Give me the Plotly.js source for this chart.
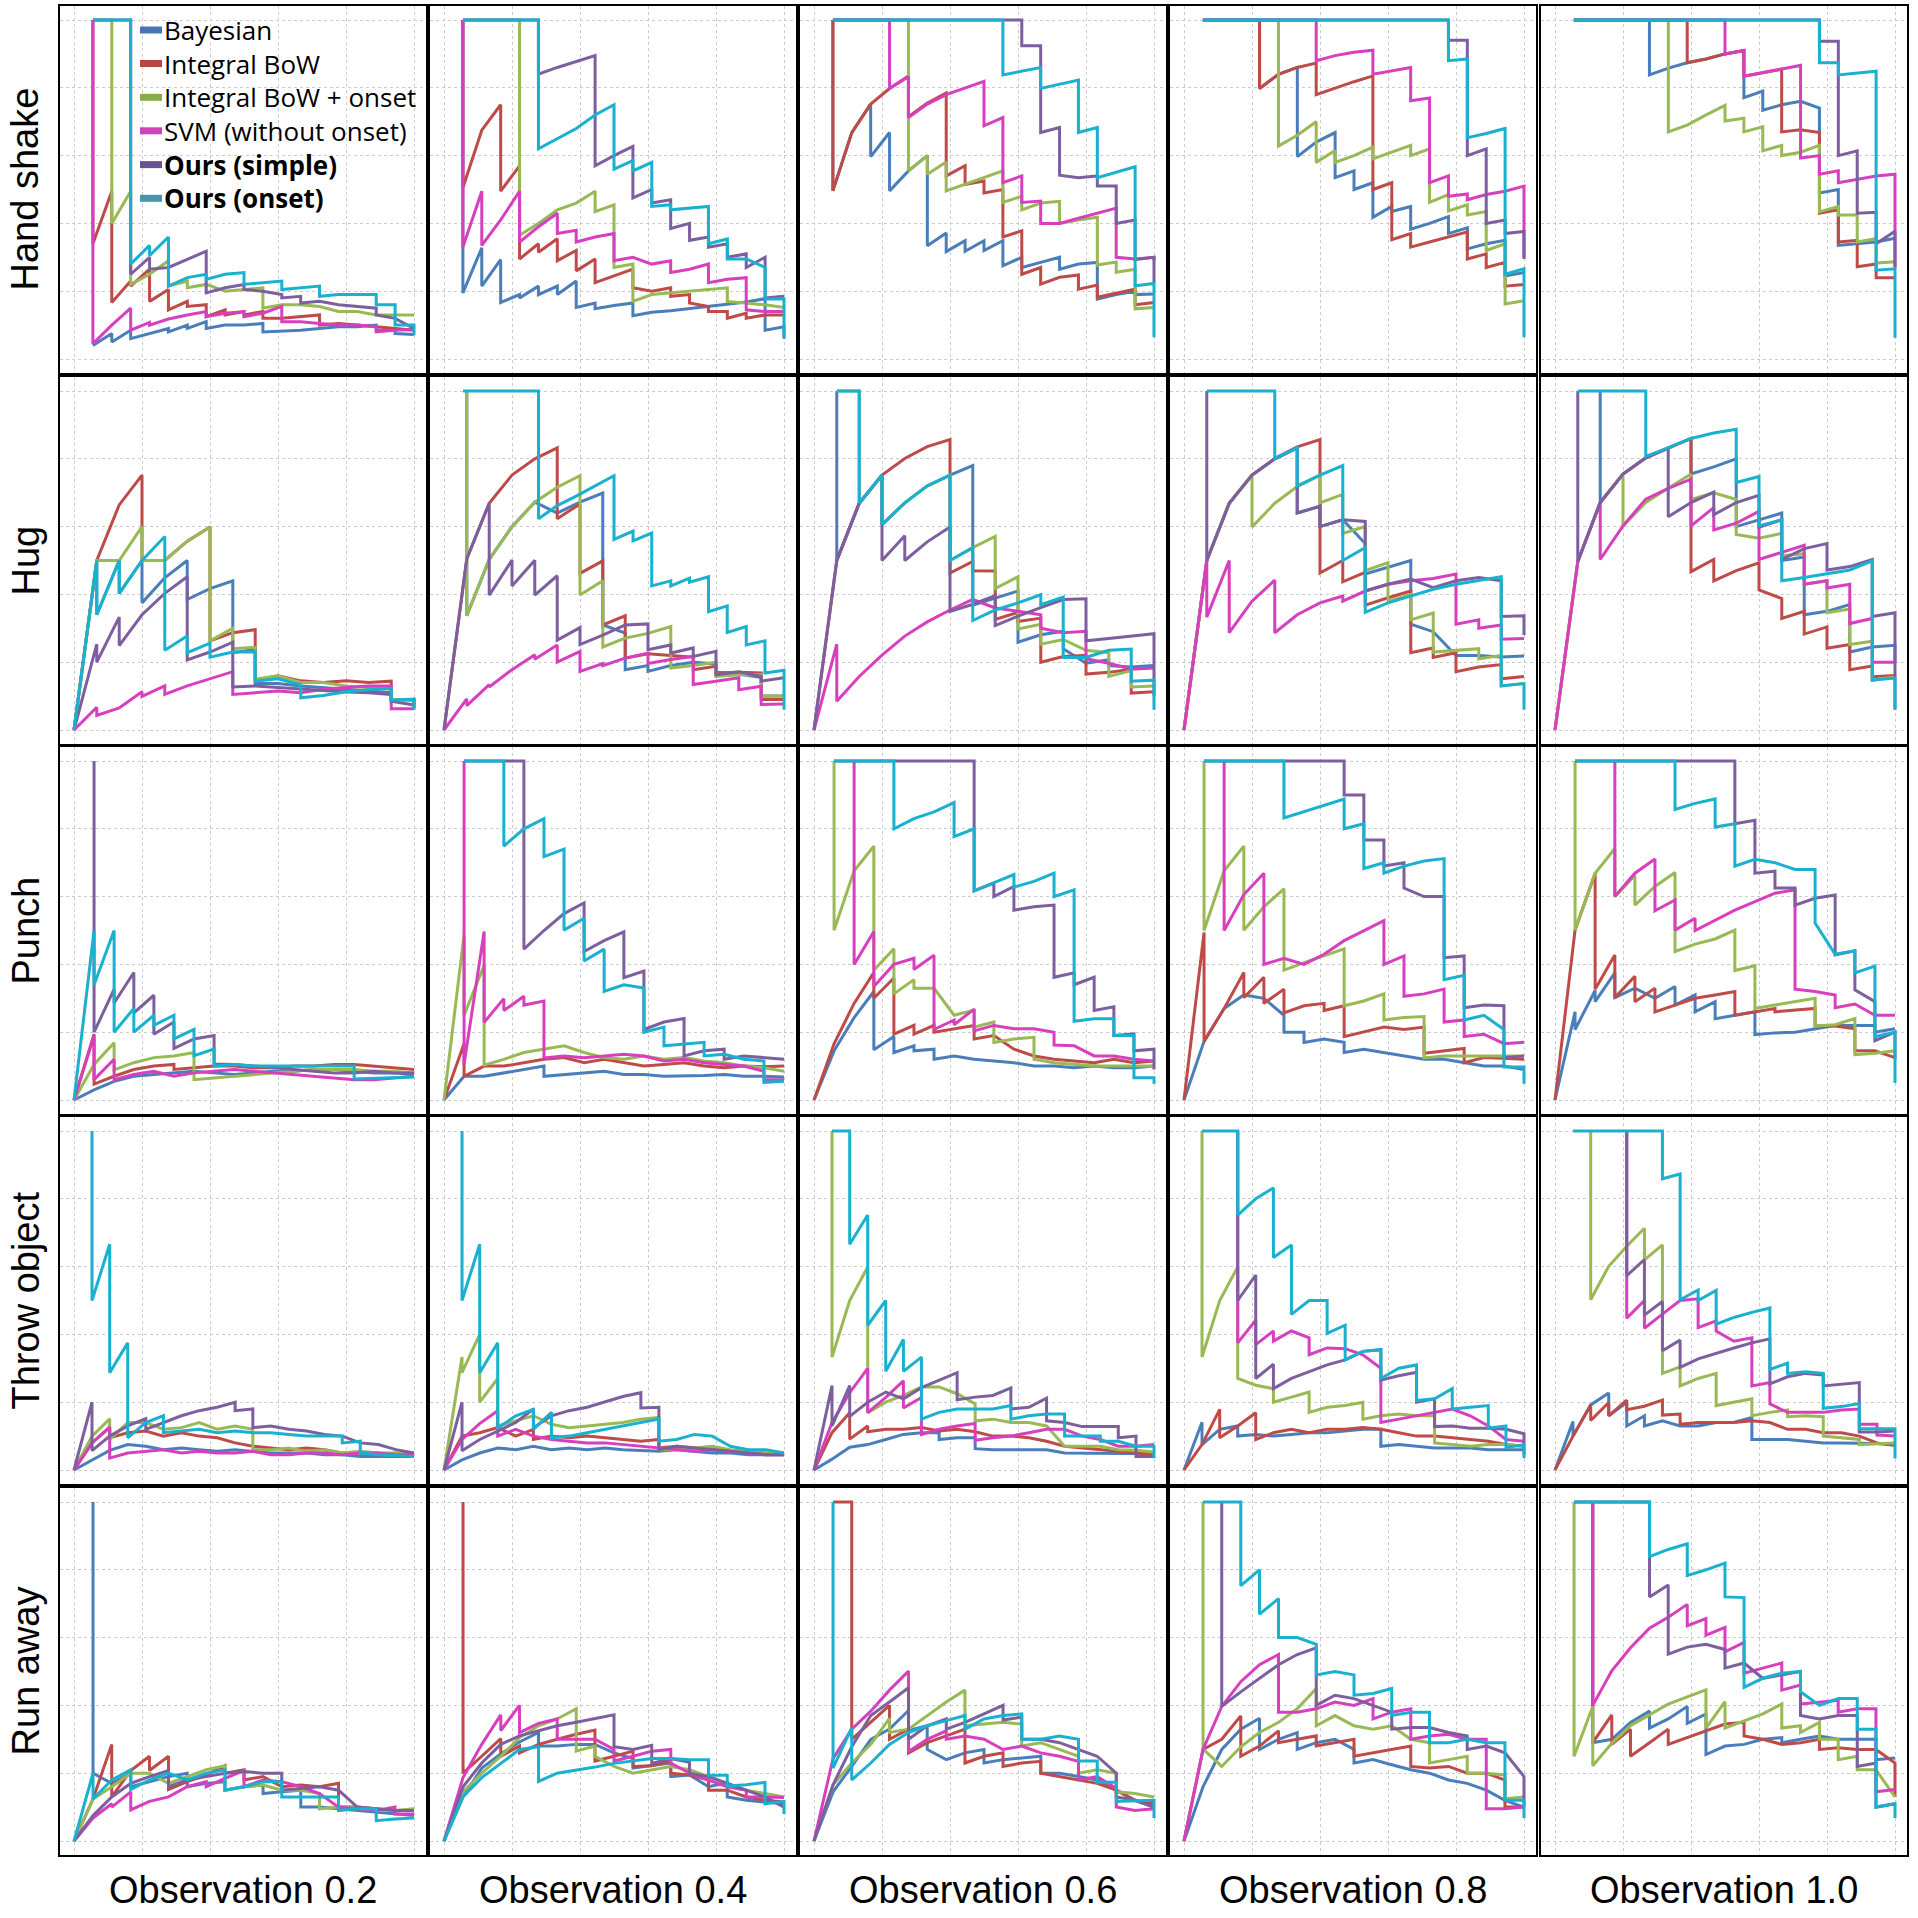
<!DOCTYPE html>
<html><head><meta charset="utf-8">
<script src="https://cdn.plot.ly/plotly-3.0.1.min.js"></script>
<style>html,body{margin:0;padding:0;background:#fff}#chart{width:1918px;height:1918px}</style>
</head><body><div id="chart"></div>
<script>
// ---------- labels ----------
const classNames = ['Hand shake', 'Hug', 'Punch', 'Throw object', 'Run away'];
const observationLabels = ['Observation 0.2', 'Observation 0.4', 'Observation 0.6', 'Observation 0.8', 'Observation 1.0'];
const methodNames = ['Bayesian', 'Integral BoW', 'Integral BoW + onset', 'SVM (without onset)', '<b>Ours (simple)</b>', '<b>Ours (onset)</b>'];
const HAND_SHAKE_POSITIVES = 18; // hand-shake curves are stored as hit counts (recall = hits / 18)

// ---------- Hand shake (x = hit count, y = precision) ----------
const hs02_bay = [1,.04, 2,.075, 2,.05, 3,.085, 3,.06, 4,.075, 5,.09, 5,.08, 6,.10, 6,.09, 7,.11, 7,.09, 8,.10, 9,.10, 10,.105, 10,.08, 11,.082, 12,.085, 13,.09, 14,.095, 15,.095, 16,.10, 16,.085, 17,.085, 17,.075, 18,.072];
const hs02_ibow = [1,1, 1,.34, 2,.495, 2,.167, 3,.23, 3,.215, 4,.265, 4,.17, 5,.205, 5,.145, 6,.17, 6,.155, 7,.16, 7,.125, 8,.145, 8,.13, 9,.14, 9,.13, 10,.14, 10,.12, 11,.12, 12,.125, 13,.13, 13,.10, 14,.105, 15,.10, 16,.095, 17,.09, 18,.085];
const hs02_obow = [1,1, 2,1, 2,.40, 3,.495, 3,.22, 4,.25, 5,.29, 5,.215, 6,.23, 6,.21, 7,.22, 8,.20, 9,.205, 10,.21, 10,.15, 11,.16, 12,.16, 13,.155, 14,.14, 15,.14, 16,.13, 17,.13, 18,.13];
const hs02_svm = [1,1, 1,.045, 2,.10, 3,.15, 3,.085, 4,.108, 4,.10, 5,.118, 6,.13, 7,.14, 7,.125, 8,.135, 9,.14, 9,.125, 10,.135, 11,.155, 11,.11, 12,.11, 13,.105, 14,.10, 15,.10, 16,.095, 16,.08, 17,.085, 18,.087];
const hs02_simple = [1,1, 3,1, 3,.25, 4,.30, 4,.265, 5,.27, 6,.294, 7,.318, 7,.195, 8,.21, 9,.22, 9,.205, 10,.20, 11,.19, 11,.18, 12,.185, 12,.165, 13,.17, 14,.16, 15,.155, 16,.15, 16,.13, 17,.12, 18,.09];
const hs02_ours = [1,1, 3,1, 3,.28, 4,.335, 4,.305, 5,.36, 5,.215, 6,.24, 7,.25, 7,.235, 8,.25, 9,.255, 9,.22, 10,.225, 11,.23, 11,.205, 12,.21, 13,.215, 13,.185, 14,.19, 15,.19, 16,.19, 16,.16, 17,.16, 17,.10, 18,.10, 18,.07];

const hs04_bay = [1,1, 1,.195, 2,.328, 2,.215, 3,.293, 3,.167, 4,.19, 4,.18, 5,.215, 5,.19, 6,.215, 6,.19, 7,.23, 7,.152, 8,.165, 8,.148, 9,.158, 10,.165, 10,.128, 11,.138, 12,.142, 13,.148, 14,.155, 15,.16, 16,.168, 17,.178, 17,.085, 18,.095, 18,.06];
const hs04_ibow = [1,1, 1,.505, 2,.675, 3,.75, 3,.495, 4,.57, 4,.295, 5,.34, 5,.315, 6,.355, 6,.29, 7,.32, 7,.26, 8,.295, 8,.225, 9,.245, 10,.265, 10,.21, 11,.20, 12,.21, 12,.185, 13,.19, 13,.165, 14,.155, 14,.14, 15,.14, 15,.12, 16,.135, 16,.12, 17,.13, 18,.13];
const hs04_obow = [1,1, 4,1, 4,.365, 5,.40, 6,.44, 7,.46, 8,.495, 8,.435, 9,.455, 9,.27, 10,.28, 10,.17, 11,.19, 12,.195, 13,.20, 14,.205, 15,.21, 15,.17, 16,.165, 17,.16, 18,.152];
const hs04_svm = [1,1, 1,.33, 2,.495, 2,.335, 3,.41, 4,.495, 4,.345, 5,.39, 6,.43, 6,.37, 7,.38, 7,.345, 8,.36, 9,.37, 9,.29, 10,.30, 11,.28, 12,.29, 12,.255, 13,.265, 14,.28, 14,.225, 15,.235, 16,.24, 16,.145, 17,.14, 18,.14];
const hs04_simple = [1,1, 5,1, 5,.84, 6,.86, 8,.895, 8,.57, 9,.60, 10,.627, 10,.475, 11,.50, 11,.46, 12,.47, 12,.385, 13,.40, 13,.35, 14,.36, 14,.33, 15,.34, 15,.30, 16,.31, 16,.27, 17,.30, 17,.18, 18,.185];
const hs04_ours = [1,1, 5,1, 5,.62, 6,.65, 7,.68, 8,.72, 9,.75, 9,.56, 10,.585, 10,.555, 11,.58, 11,.45, 12,.455, 12,.44, 13,.445, 14,.45, 14,.34, 15,.354, 15,.295, 16,.295, 17,.27, 17,.177, 18,.178, 18,.065];

const hs06_bay = [1,1, 1,.496, 2,.668, 3,.752, 3,.597, 4,.668, 4,.496, 5,.555, 6,.60, 6,.334, 7,.372, 7,.317, 8,.349, 8,.318, 9,.349, 9,.32, 10,.349, 10,.275, 11,.30, 11,.27, 12,.285, 13,.30, 13,.265, 14,.28, 15,.285, 15,.177, 16,.19, 17,.20, 17,.19, 18,.192];
const hs06_ibow = [1,1, 1,.496, 2,.668, 3,.752, 4,.798, 5,.835, 5,.715, 6,.755, 7,.785, 7,.54, 8,.57, 8,.515, 9,.525, 9,.49, 10,.50, 10,.36, 11,.378, 11,.25, 12,.27, 12,.221, 13,.241, 14,.248, 14,.206, 15,.218, 15,.182, 16,.195, 17,.206, 17,.16, 18,.167];
const hs06_obow = [1,1, 5,1, 5,.555, 6,.60, 6,.545, 7,.581, 7,.496, 8,.515, 9,.535, 10,.555, 10,.462, 11,.48, 11,.44, 12,.46, 13,.465, 13,.40, 14,.41, 15,.418, 15,.277, 16,.286, 16,.256, 17,.265, 17,.148, 18,.152];
const hs06_svm = [1,1, 4,1, 4,.798, 5,.833, 5,.712, 6,.752, 7,.78, 8,.80, 9,.819, 9,.688, 10,.712, 10,.52, 11,.54, 11,.462, 12,.466, 12,.40, 13,.40, 14,.415, 15,.43, 16,.445, 16,.30, 17,.295, 18,.30, 18,.29];
const hs06_simple = [1,1, 11,1, 11,.924, 12,.924, 12,.668, 13,.683, 13,.542, 14,.535, 15,.54, 15,.51, 16,.51, 16,.40, 17,.41, 17,.293, 18,.30, 18,.226];
const hs06_ours = [1,1, 10,1, 10,.838, 11,.85, 12,.86, 12,.798, 13,.81, 14,.823, 14,.668, 15,.683, 15,.535, 16,.55, 17,.567, 17,.216, 18,.223, 18,.064];

const hs08_bay = [1,1, 4,1, 4,.798, 5,.84, 6,.86, 6,.597, 7,.64, 8,.668, 8,.535, 9,.555, 9,.50, 10,.52, 10,.418, 11,.45, 11,.435, 12,.45, 12,.383, 13,.40, 14,.42, 14,.37, 15,.387, 15,.325, 16,.34, 17,.35, 17,.245, 18,.255];
const hs08_ibow = [1,1, 4,1, 4,.798, 5,.84, 6,.86, 7,.873, 7,.78, 8,.80, 9,.818, 10,.835, 10,.50, 11,.52, 11,.352, 12,.37, 12,.33, 13,.345, 14,.36, 15,.375, 15,.295, 16,.31, 16,.27, 17,.285, 17,.215, 18,.22];
const hs08_obow = [1,1, 5,1, 5,.628, 6,.66, 7,.70, 7,.58, 8,.615, 8,.58, 9,.60, 10,.625, 10,.59, 11,.61, 12,.63, 12,.60, 13,.62, 13,.462, 14,.485, 14,.437, 15,.455, 15,.425, 16,.435, 16,.32, 17,.34, 17,.162, 18,.172];
const hs08_svm = [1,1, 7,1, 7,.88, 8,.895, 9,.905, 10,.911, 10,.84, 11,.85, 12,.86, 12,.762, 13,.77, 13,.52, 14,.54, 14,.48, 15,.487, 15,.47, 16,.485, 17,.495, 18,.51, 18,.30];
const hs08_simple = [1,1, 14,1, 14,.94, 15,.94, 15,.60, 16,.62, 16,.40, 17,.41, 17,.37, 18,.376, 18,.295];
const hs08_ours = [1,1, 14,1, 14,.88, 15,.885, 15,.653, 16,.665, 17,.68, 17,.25, 18,.266, 18,.064];

const hs10_bay = [1,1, 5,1, 5,.838, 6,.858, 7,.874, 8,.885, 9,.90, 10,.91, 10,.771, 11,.79, 11,.734, 12,.75, 13,.76, 14,.74, 14,.49, 15,.50, 15,.335, 16,.34, 17,.345, 18,.356];
const hs10_ibow = [1,1, 7,1, 7,.874, 8,.885, 9,.90, 10,.91, 10,.834, 11,.845, 12,.855, 12,.67, 13,.676, 14,.668, 14,.43, 15,.44, 15,.345, 16,.35, 16,.272, 17,.28, 17,.24, 18,.24];
const hs10_obow = [1,1, 6,1, 6,.67, 7,.69, 8,.72, 9,.748, 9,.702, 10,.71, 10,.67, 11,.685, 11,.614, 12,.63, 12,.60, 13,.61, 14,.63, 14,.434, 15,.45, 15,.425, 16,.425, 16,.345, 17,.355, 17,.283, 18,.287];
const hs10_svm = [1,1, 9,1, 9,.90, 10,.91, 10,.834, 11,.845, 12,.855, 13,.866, 13,.593, 14,.60, 14,.545, 15,.555, 15,.52, 16,.53, 17,.54, 18,.545, 18,.27];
const hs10_simple = [1,1, 14,1, 14,.937, 15,.937, 15,.60, 16,.614, 16,.43, 17,.433, 17,.34, 18,.377, 18,.27];
const hs10_ours = [1,1, 14,1, 14,.874, 15,.874, 15,.838, 16,.843, 17,.849, 17,.262, 18,.266, 18,.063];

// ---------- Hug (x = recall, y = precision) ----------
const hug02_bay = [0,0, .067,.5, .067,.34, .133,.5, .133,.403, .2,.5, .2,.375, .267,.449, .333,.5, .333,.385, .4,.417, .467,.44, .467,.228, .533,.238, .533,.137, .6,.137, .667,.13, .733,.125, .8,.12, .867,.115, .933,.11, .933,.09, 1,.088, 1,.065];
const hug02_ibow = [0,0, .067,.5, .133,.664, .2,.752, .2,.5, .267,.5, .333,.557, .4,.599, .4,.263, .467,.287, .533,.296, .533,.147, .6,.16, .667,.145, .733,.14, .8,.145, .867,.14, .933,.144, .933,.09, 1,.09, 1,.065];
const hug02_obow = [0,0, .067,.5, .133,.5, .2,.6, .2,.5, .267,.5, .333,.557, .4,.599, .4,.263, .467,.3, .467,.24, .533,.244, .533,.15, .6,.16, .667,.14, .733,.14, .8,.13, .867,.125, .933,.12, .933,.09, 1,.09, 1,.065];
const hug02_svm = [0,0, .067,.067, .067,.043, .133,.065, .2,.113, .2,.099, .267,.13, .267,.105, .333,.13, .4,.151, .467,.172, .467,.105, .533,.11, .6,.115, .667,.11, .733,.12, .8,.125, .867,.13, .933,.13, .933,.063, 1,.063];
const hug02_simple = [0,0, .067,.253, .067,.2, .133,.333, .133,.249, .2,.34, .267,.403, .333,.452, .333,.207, .4,.23, .467,.259, .467,.127, .533,.13, .6,.125, .667,.12, .733,.115, .8,.112, .867,.11, .933,.105, .933,.085, 1,.074];
const hug02_ours = [0,0, .067,.5, .067,.34, .133,.5, .133,.403, .2,.5, .267,.571, .267,.235, .333,.277, .333,.228, .4,.256, .4,.215, .467,.23, .533,.231, .533,.144, .6,.151, .667,.133, .667,.095, .733,.102, .8,.113, .867,.119, .933,.123, .933,.088, 1,.091, 1,.06];

const hug04_bay = [.067,1, .067,.337, .133,.503, .2,.6, .267,.672, .333,.64, .4,.672, .467,.699, .467,.31, .533,.286, .533,.178, .6,.19, .6,.173, .667,.19, .733,.20, .8,.195, .8,.17, .867,.165, .933,.155, .933,.10, 1,.10];
const hug04_ibow = [0,0, .067,.505, .133,.669, .2,.752, .267,.80, .333,.832, .333,.623, .4,.667, .4,.462, .467,.499, .467,.31, .533,.337, .533,.212, .6,.225, .667,.22, .733,.215, .733,.178, .8,.188, .8,.168, .867,.17, .933,.168, .933,.09, 1,.09];
const hug04_obow = [.067,1, .067,.337, .133,.503, .2,.599, .267,.672, .333,.716, .4,.75, .4,.398, .467,.44, .467,.245, .533,.271, .6,.285, .667,.305, .667,.183, .733,.19, .8,.20, .8,.158, .867,.163, .933,.163, .933,.10, 1,.10];
const hug04_svm = [0,0, .067,.092, .067,.072, .133,.134, .133,.127, .2,.178, .267,.222, .267,.209, .333,.251, .333,.20, .4,.232, .4,.173, .467,.196, .467,.19, .533,.212, .6,.227, .6,.196, .667,.208, .733,.217, .733,.134, .8,.144, .867,.154, .867,.119, .933,.129, .933,.075, 1,.077];
const hug04_simple = [0,0, .067,.505, .133,.669, .133,.398, .2,.501, .2,.425, .267,.501, .267,.398, .333,.455, .333,.265, .4,.302, .4,.252, .467,.28, .533,.31, .6,.313, .6,.237, .667,.251, .667,.227, .733,.242, .733,.217, .8,.232, .8,.163, .867,.172, .933,.158, .933,.144, 1,.154];
const hug04_ours = [.056,1, .278,1, .278,.623, .333,.662, .389,.69, .444,.72, .5,.75, .5,.562, .556,.587, .556,.558, .611,.581, .611,.425, .667,.44, .667,.425, .722,.448, .722,.436, .778,.452, .778,.349, .833,.366, .833,.288, .889,.305, .889,.251, .944,.263, .944,.168, 1,.176, 1,.06];

const hug06_bay = [.067,1, .067,.5, .133,.669, .2,.752, .2,.606, .267,.67, .333,.72, .4,.752, .467,.78, .467,.368, .533,.389, .6,.41, .6,.259, .667,.281, .733,.291, .733,.24, .8,.197, .867,.207, .867,.19, .933,.186, 1,.19];
const hug06_ibow = [0,0, .067,.5, .133,.669, .2,.752, .267,.801, .333,.836, .4,.857, .4,.463, .467,.497, .467,.47, .533,.469, .533,.326, .6,.347, .6,.32, .667,.33, .667,.2, .733,.217, .8,.22, .8,.165, .867,.17, .933,.179, .933,.109, 1,.113];
const hug06_obow = [.067,1, .133,1, .133,.669, .2,.752, .2,.606, .267,.67, .333,.72, .4,.752, .4,.5, .467,.538, .533,.571, .533,.417, .6,.452, .6,.298, .667,.312, .667,.253, .733,.267, .8,.235, .867,.228, .867,.158, .933,.175, .933,.127, 1,.13];
const hug06_svm = [0,0, .067,.253, .067,.085, .133,.158, .2,.221, .267,.277, .333,.319, .4,.354, .467,.385, .533,.36, .6,.35, .667,.34, .667,.30, .733,.287, .8,.291, .8,.21, .867,.197, .933,.179, 1,.183];
const hug06_simple = [0,0, .067,.5, .133,.669, .2,.752, .2,.5, .267,.573, .267,.5, .333,.555, .4,.599, .4,.35, .467,.371, .533,.396, .533,.308, .6,.336, .667,.361, .733,.385, .8,.387, .8,.263, .867,.27, .933,.277, 1,.284, 1,.10];
const hug06_ours = [.067,1, .133,1, .133,.669, .2,.752, .2,.606, .267,.67, .333,.72, .4,.752, .4,.5, .467,.538, .467,.323, .533,.354, .6,.375, .667,.399, .667,.37, .733,.392, .733,.214, .8,.214, .867,.235, .933,.239, .933,.144, 1,.147, 1,.06];

const hug08_bay = [0,0, .067,.5, .133,.669, .2,.752, .267,.80, .333,.832, .333,.64, .4,.66, .4,.60, .467,.62, .533,.55, .533,.46, .6,.48, .667,.50, .667,.312, .733,.29, .8,.22, .867,.22, .933,.215, 1,.218];
const hug08_ibow = [0,0, .067,.5, .133,.669, .2,.752, .267,.801, .333,.835, .4,.857, .4,.463, .467,.50, .467,.437, .533,.465, .533,.368, .6,.39, .667,.41, .667,.228, .733,.242, .733,.214, .8,.228, .8,.172, .867,.186, .933,.193, .933,.151, 1,.158];
const hug08_obow = [0,0, .067,.5, .133,.669, .2,.752, .2,.599, .267,.669, .333,.718, .4,.752, .4,.67, .467,.695, .467,.58, .533,.60, .533,.47, .6,.494, .6,.38, .667,.40, .667,.325, .733,.345, .733,.23, .8,.235, .867,.24, .867,.21, .933,.22, .933,.13, 1,.137];
const hug08_svm = [0,0, .067,.5, .067,.333, .133,.5, .133,.287, .2,.38, .267,.442, .267,.287, .333,.34, .4,.375, .467,.395, .467,.38, .533,.41, .6,.43, .667,.44, .733,.447, .8,.46, .8,.312, .867,.325, .867,.30, .933,.31, .933,.268, 1,.27];
const hug08_simple = [.067,1, .067,.5, .133,.669, .2,.752, .267,.80, .333,.832, .333,.64, .4,.66, .4,.60, .467,.62, .533,.615, .533,.41, .6,.43, .667,.445, .733,.42, .8,.44, .867,.45, .933,.44, .933,.335, 1,.337, 1,.28];
const hug08_ours = [.067,1, .267,1, .267,.801, .333,.832, .333,.72, .4,.752, .467,.78, .467,.50, .533,.538, .533,.347, .6,.375, .667,.395, .733,.415, .8,.43, .867,.44, .933,.452, .933,.13, 1,.137, 1,.06];

const hug10_bay = [.133,1, .133,.671, .2,.755, .267,.803, .333,.832, .4,.86, .4,.755, .467,.776, .533,.80, .533,.60, .6,.62, .667,.64, .667,.50, .733,.51, .733,.34, .8,.35, .867,.37, .867,.23, .933,.245, 1,.25, 1,.20];
const hug10_ibow = [0,0, .067,.497, .133,.671, .2,.755, .267,.803, .333,.832, .4,.86, .4,.467, .467,.503, .467,.44, .533,.47, .6,.493, .6,.413, .667,.388, .667,.329, .733,.35, .733,.283, .8,.304, .8,.241, .867,.252, .867,.178, .933,.189, .933,.157, 1,.161];
const hug10_obow = [0,0, .067,.497, .133,.671, .2,.755, .2,.602, .267,.671, .333,.713, .4,.755, .4,.68, .467,.70, .533,.68, .533,.577, .6,.566, .667,.58, .667,.514, .733,.52, .733,.43, .8,.44, .8,.346, .867,.357, .867,.252, .933,.262, .933,.147, 1,.157];
const hug10_svm = [0,0, .067,.497, .133,.671, .133,.503, .2,.602, .267,.681, .333,.713, .4,.74, .4,.602, .467,.656, .467,.59, .533,.61, .6,.645, .6,.503, .667,.524, .733,.545, .733,.43, .8,.44, .8,.419, .867,.43, .867,.314, .933,.329, .933,.20, 1,.20];
const hug10_simple = [.067,1, .067,.497, .133,.671, .2,.755, .267,.803, .333,.832, .333,.629, .4,.671, .467,.702, .467,.635, .533,.671, .6,.692, .6,.598, .667,.62, .667,.503, .733,.535, .8,.55, .8,.472, .867,.482, .933,.503, .933,.335, 1,.346, 1,.06];
const hug10_ours = [.067,1, .267,1, .267,.807, .333,.832, .4,.86, .467,.876, .533,.887, .533,.73, .6,.748, .6,.602, .667,.62, .667,.44, .733,.45, .8,.461, .867,.472, .933,.499, .933,.147, 1,.153, 1,.063];

// ---------- Punch ----------
const pun02_bay = [0,0, .059,.03, .118,.055, .176,.07, .235,.075, .294,.08, .353,.085, .412,.08, .471,.075, .529,.08, .588,.085, .647,.085, .706,.09, .765,.09, .824,.085, .882,.08, .941,.08, 1,.075];
const pun02_ibow = [0,0, .059,.194, .059,.047, .118,.07, .176,.09, .235,.10, .294,.105, .294,.09, .353,.095, .412,.10, .471,.10, .529,.095, .588,.095, .647,.10, .706,.10, .765,.105, .824,.105, .882,.10, .941,.095, 1,.09];
const pun02_obow = [0,0, .059,.105, .118,.169, .118,.089, .176,.11, .235,.125, .294,.13, .353,.14, .353,.06, .412,.065, .471,.07, .529,.075, .588,.08, .647,.085, .706,.09, .765,.09, .824,.09, .882,.085, .941,.085, 1,.08];
const pun02_svm = [0,0, .059,.19, .059,.06, .118,.12, .118,.06, .176,.075, .235,.085, .294,.07, .353,.08, .412,.085, .471,.09, .529,.085, .588,.08, .647,.075, .706,.07, .765,.065, .824,.06, .882,.06, .941,.065, 1,.07];
const pun02_simple = [.059,1, .059,.2, .118,.327, .118,.286, .176,.376, .176,.257, .235,.309, .235,.194, .294,.23, .294,.152, .353,.18, .412,.19, .412,.106, .471,.105, .529,.10, .588,.095, .647,.09, .706,.085, .765,.08, .824,.08, .882,.085, .941,.08, 1,.08];
const pun02_ours = [0,0, .059,.5, .059,.34, .118,.5, .118,.20, .176,.27, .176,.20, .235,.25, .235,.22, .294,.25, .294,.18, .353,.208, .353,.131, .412,.15, .412,.10, .471,.105, .529,.10, .588,.10, .647,.10, .706,.10, .765,.10, .824,.10, .824,.062, 1,.068];

const pun04_bay = [0,0, .059,.07, .118,.07, .176,.08, .235,.09, .294,.10, .294,.07, .353,.075, .412,.08, .471,.085, .529,.075, .588,.075, .647,.07, .706,.07, .765,.072, .824,.075, .882,.07, .941,.07, 1,.068];
const pun04_ibow = [0,0, .059,.166, .059,.07, .118,.10, .176,.10, .235,.11, .294,.12, .353,.125, .412,.11, .471,.12, .529,.11, .588,.10, .647,.105, .706,.11, .765,.10, .824,.095, .882,.10, .941,.098, 1,.10];
const pun04_obow = [0,0, .059,.487, .059,.25, .118,.397, .118,.103, .176,.12, .235,.14, .294,.15, .353,.16, .412,.14, .471,.125, .529,.12, .588,.13, .647,.12, .706,.125, .765,.115, .824,.11, .882,.10, .941,.095, 1,.085];
const pun04_svm = [.059,1, .059,.105, .118,.497, .118,.229, .176,.299, .176,.264, .235,.306, .235,.28, .294,.292, .294,.124, .353,.13, .412,.125, .471,.13, .529,.135, .588,.13, .647,.115, .706,.12, .765,.11, .824,.105, .882,.10, .941,.085, .941,.06, 1,.06];
const pun04_simple = [.059,1, .235,1, .235,.445, .294,.50, .353,.55, .412,.581, .412,.438, .471,.47, .529,.496, .529,.361, .588,.38, .588,.208, .647,.23, .706,.24, .706,.13, .765,.145, .824,.15, .824,.12, .882,.13, .941,.125, 1,.12];
const pun04_ours = [.059,1, .176,1, .176,.749, .235,.80, .294,.83, .294,.718, .353,.74, .353,.501, .412,.536, .412,.41, .471,.445, .471,.32, .529,.34, .588,.33, .588,.20, .647,.215, .647,.16, .706,.165, .765,.17, .765,.13, .824,.135, .882,.12, .941,.115, .941,.052, 1,.055];

const pun06_bay = [0,0, .059,.145, .118,.243, .176,.32, .176,.148, .235,.187, .235,.14, .294,.16, .294,.145, .353,.15, .353,.12, .412,.13, .471,.12, .529,.115, .588,.11, .647,.10, .706,.10, .765,.095, .824,.10, .882,.095, .941,.095, 1,.10];
const pun06_ibow = [0,0, .059,.166, .118,.285, .176,.376, .176,.30, .235,.36, .235,.194, .294,.22, .294,.194, .353,.22, .353,.20, .412,.21, .471,.22, .471,.18, .529,.19, .588,.15, .647,.13, .706,.12, .765,.115, .824,.11, .882,.12, .941,.11, 1,.115];
const pun06_obow = [.059,1, .059,.501, .118,.676, .176,.749, .176,.383, .235,.446, .235,.313, .294,.355, .294,.33, .353,.33, .412,.25, .471,.265, .471,.215, .529,.23, .529,.17, .588,.18, .647,.185, .647,.12, .706,.11, .765,.105, .824,.10, .882,.10, .941,.10, 1,.10];
const pun06_svm = [.118,1, .118,.40, .176,.497, .176,.335, .235,.40, .294,.418, .294,.385, .353,.427, .353,.208, .412,.236, .412,.222, .471,.268, .471,.204, .529,.22, .588,.21, .647,.21, .706,.20, .706,.162, .765,.16, .824,.13, .882,.13, .941,.12, 1,.115];
const pun06_simple = [.059,1, .471,1, .471,.617, .529,.64, .529,.60, .588,.63, .588,.56, .647,.57, .706,.575, .706,.362, .765,.375, .765,.34, .824,.362, .824,.264, .882,.275, .882,.19, .941,.195, .941,.145, 1,.15, 1,.09];
const pun06_ours = [.059,1, .235,1, .235,.80, .294,.83, .353,.85, .412,.877, .412,.777, .471,.80, .471,.617, .529,.64, .588,.665, .588,.628, .647,.645, .706,.669, .706,.60, .765,.62, .765,.232, .824,.24, .882,.24, .882,.19, .941,.19, .941,.066, 1,.066, 1,.048];

const pun08_bay = [0,0, .059,.173, .118,.27, .176,.31, .235,.30, .294,.25, .294,.20, .353,.20, .353,.17, .412,.18, .471,.17, .471,.14, .529,.15, .588,.14, .647,.13, .706,.12, .765,.12, .824,.11, .882,.10, .941,.10, 1,.09];
const pun08_ibow = [0,0, .059,.494, .059,.173, .118,.27, .176,.376, .176,.302, .235,.362, .235,.285, .294,.327, .294,.257, .353,.278, .412,.285, .412,.264, .471,.278, .471,.187, .529,.20, .588,.215, .647,.208, .706,.215, .706,.138, .765,.145, .824,.152, .824,.11, .882,.125, 1,.12];
const pun08_obow = [.059,1, .059,.50, .118,.676, .176,.749, .176,.501, .235,.57, .294,.623, .294,.383, .353,.405, .412,.425, .471,.446, .471,.278, .529,.292, .588,.313, .588,.236, .647,.243, .706,.246, .706,.124, .765,.13, .824,.13, .882,.13, .941,.13, 1,.13];
const pun08_svm = [.118,1, .118,.50, .176,.606, .235,.669, .235,.40, .294,.418, .353,.40, .412,.43, .471,.47, .529,.50, .588,.529, .588,.40, .647,.425, .647,.306, .706,.313, .765,.327, .765,.23, .824,.236, .824,.187, .882,.194, .941,.166, 1,.17];
const pun08_simple = [.059,1, .471,1, .471,.90, .529,.90, .529,.767, .588,.767, .588,.69, .647,.70, .647,.625, .706,.60, .765,.60, .765,.42, .824,.425, .824,.272, .882,.28, .941,.278, .941,.125, 1,.13];
const pun08_ours = [.059,1, .294,1, .294,.832, .353,.85, .412,.87, .471,.888, .471,.80, .529,.815, .529,.683, .588,.70, .588,.669, .647,.69, .706,.705, .765,.712, .765,.355, .824,.368, .824,.236, .882,.25, .941,.208, .941,.097, 1,.097, 1,.048];

const pun10_bay = [0,0, .059,.26, .059,.208, .118,.323, .118,.29, .176,.375, .176,.302, .235,.33, .294,.30, .353,.335, .353,.28, .412,.31, .412,.26, .471,.29, .471,.24, .529,.25, .588,.26, .588,.193, .647,.198, .706,.20, .765,.21, .824,.22, .882,.22, .941,.22, .941,.20, 1,.21];
const pun10_ibow = [0,0, .059,.501, .118,.669, .118,.327, .176,.428, .176,.302, .235,.365, .235,.29, .294,.33, .294,.26, .353,.28, .412,.30, .471,.31, .529,.32, .529,.25, .588,.26, .647,.27, .647,.26, .706,.265, .765,.27, .765,.218, .824,.218, .882,.21, .882,.145, .941,.145, 1,.125];
const pun10_obow = [.059,1, .059,.501, .118,.669, .176,.742, .176,.60, .235,.662, .235,.575, .294,.63, .353,.671, .353,.438, .412,.46, .471,.475, .529,.501, .529,.382, .588,.396, .588,.27, .647,.28, .706,.29, .765,.30, .765,.218, .824,.222, .882,.24, .882,.134, .941,.138, 1,.145];
const pun10_svm = [.176,1, .176,.60, .235,.669, .294,.711, .294,.558, .353,.59, .353,.501, .412,.536, .412,.50, .471,.53, .529,.56, .588,.585, .647,.61, .706,.62, .706,.327, .765,.32, .824,.31, .824,.272, .882,.283, .941,.25, 1,.25];
const pun10_simple = [.059,1, .529,1, .529,.815, .588,.825, .588,.669, .647,.675, .647,.625, .706,.625, .706,.575, .765,.595, .824,.605, .824,.428, .882,.44, .882,.325, .941,.29, .941,.175, 1,.20, 1,.12];
const pun10_ours = [.059,1, .353,1, .353,.857, .412,.875, .471,.888, .471,.805, .529,.815, .529,.69, .588,.71, .647,.70, .706,.68, .765,.68, .765,.522, .824,.43, .882,.44, .882,.375, .941,.395, .941,.187, 1,.20, 1,.05];

// ---------- Throw object ----------
const thr02_bay = [0,0, .053,.03, .105,.058, .158,.075, .211,.07, .263,.06, .316,.065, .368,.06, .421,.055, .474,.06, .526,.055, .579,.05, .632,.05, .684,.05, .737,.045, .789,.045, .842,.04, .895,.04, .947,.04, 1,.04];
const thr02_ibow = [0,0, .053,.08, .105,.125, .105,.095, .158,.11, .211,.115, .263,.10, .316,.11, .368,.10, .421,.095, .474,.08, .526,.07, .579,.065, .632,.06, .684,.065, .737,.06, .789,.05, .842,.05, .895,.045, .947,.05, 1,.045];
const thr02_obow = [0,0, .053,.10, .105,.151, .105,.09, .158,.14, .211,.14, .263,.12, .316,.125, .368,.14, .421,.12, .474,.13, .526,.12, .526,.06, .579,.06, .632,.065, .684,.055, .737,.06, .789,.05, .842,.055, .895,.05, .947,.05, 1,.05];
const thr02_svm = [0,0, .053,.08, .105,.127, .105,.035, .158,.05, .211,.055, .263,.06, .316,.05, .368,.055, .421,.05, .474,.05, .526,.055, .579,.045, .632,.045, .684,.05, .737,.05, .789,.045, .842,.05, .895,.05, .947,.045, 1,.045];
const thr02_simple = [0,0, .053,.20, .053,.057, .105,.10, .158,.13, .211,.151, .211,.12, .263,.14, .316,.16, .368,.175, .421,.185, .474,.20, .474,.175, .526,.18, .526,.125, .579,.13, .632,.12, .684,.115, .737,.105, .789,.10, .842,.08, .895,.075, .947,.06, 1,.05];
const thr02_ours = [.053,1, .053,.50, .105,.666, .105,.287, .158,.375, .158,.095, .211,.14, .263,.16, .263,.11, .316,.115, .368,.12, .421,.11, .474,.115, .526,.11, .579,.11, .632,.105, .684,.10, .737,.10, .789,.10, .789,.08, .842,.085, .842,.05, .895,.045, 1,.04];

const thr04_bay = [0,0, .053,.03, .105,.05, .158,.065, .211,.06, .263,.07, .316,.06, .368,.065, .421,.06, .474,.065, .526,.06, .579,.058, .632,.055, .684,.06, .737,.055, .789,.05, .842,.05, .895,.045, .947,.045, 1,.045];
const thr04_ibow = [0,0, .053,.10, .105,.11, .158,.125, .211,.10, .263,.12, .263,.09, .316,.10, .368,.095, .421,.10, .474,.095, .526,.09, .579,.085, .632,.09, .632,.065, .684,.07, .737,.065, .789,.06, .842,.055, .895,.055, .947,.05, 1,.05];
const thr04_obow = [0,0, .053,.333, .053,.287, .105,.40, .105,.20, .158,.27, .158,.13, .211,.145, .263,.16, .316,.135, .368,.125, .421,.13, .474,.135, .526,.14, .579,.15, .632,.155, .632,.06, .684,.06, .737,.065, .789,.07, .842,.06, .895,.055, .947,.05, 1,.05];
const thr04_svm = [0,0, .053,.09, .105,.137, .158,.175, .158,.10, .211,.12, .263,.10, .316,.09, .368,.085, .421,.08, .474,.08, .526,.075, .579,.07, .632,.065, .684,.06, .737,.055, .789,.06, .842,.055, .895,.05, .947,.045, 1,.045];
const thr04_simple = [0,0, .053,.20, .053,.057, .105,.09, .158,.115, .211,.14, .263,.18, .263,.125, .316,.16, .368,.175, .421,.185, .474,.20, .526,.217, .579,.228, .579,.183, .632,.185, .632,.06, .684,.07, .737,.065, .789,.06, .842,.055, .895,.05, .947,.045, 1,.045];
const thr04_ours = [.053,1, .053,.50, .105,.666, .105,.287, .158,.375, .158,.123, .211,.16, .263,.179, .263,.12, .316,.17, .316,.095, .368,.10, .421,.11, .474,.12, .526,.13, .579,.14, .632,.15, .632,.085, .684,.09, .737,.105, .789,.10, .842,.07, .895,.06, .947,.06, 1,.05];

const thr06_bay = [0,0, .053,.032, .105,.067, .158,.075, .211,.09, .263,.105, .316,.11, .368,.11, .368,.09, .421,.095, .474,.095, .474,.063, .526,.06, .579,.06, .632,.06, .684,.06, .737,.05, .789,.05, .842,.05, .895,.05, .947,.048, 1,.048];
const thr06_ibow = [0,0, .053,.11, .105,.169, .105,.091, .158,.13, .158,.113, .211,.12, .263,.12, .316,.125, .368,.115, .421,.12, .474,.113, .526,.10, .579,.10, .632,.095, .684,.085, .737,.07, .789,.065, .842,.06, .895,.055, .947,.05, 1,.045];
const thr06_obow = [.053,1, .053,.333, .105,.50, .158,.599, .158,.169, .211,.20, .263,.22, .316,.245, .368,.245, .421,.225, .474,.195, .474,.145, .526,.15, .579,.14, .632,.14, .684,.13, .737,.07, .789,.07, .842,.07, .895,.06, .947,.058, 1,.053];
const thr06_svm = [0,0, .053,.14, .105,.228, .158,.30, .158,.169, .211,.214, .263,.263, .263,.183, .316,.214, .316,.105, .368,.12, .421,.13, .474,.137, .474,.088, .526,.095, .579,.10, .632,.11, .684,.12, .737,.12, .789,.10, .842,.09, .895,.07, .947,.07, 1,.075];
const thr06_simple = [0,0, .053,.249, .053,.13, .105,.249, .105,.158, .158,.20, .211,.23, .263,.21, .316,.243, .368,.265, .421,.287, .421,.207, .474,.215, .526,.22, .579,.242, .579,.18, .632,.185, .684,.212, .684,.145, .737,.14, .789,.128, .842,.128, .895,.128, .895,.095, .947,.10, .947,.04, 1,.04];
const thr06_ours = [.053,1, .105,1, .105,.666, .158,.752, .158,.427, .211,.50, .211,.291, .263,.385, .263,.291, .316,.333, .316,.15, .368,.17, .421,.18, .474,.18, .526,.18, .579,.19, .579,.15, .632,.16, .684,.165, .737,.165, .737,.10, .789,.10, .842,.10, .842,.085, .895,.085, .947,.07, 1,.07, 1,.035];

const thr08_bay = [0,0, .053,.141, .053,.075, .105,.12, .158,.13, .158,.10, .211,.105, .263,.10, .316,.105, .368,.11, .421,.11, .474,.115, .526,.12, .579,.12, .579,.07, .632,.075, .684,.07, .737,.065, .789,.065, .842,.065, .895,.06, .947,.06, 1,.06];
const thr08_ibow = [0,0, .053,.075, .105,.179, .105,.095, .158,.13, .211,.169, .211,.09, .263,.11, .316,.12, .368,.11, .421,.12, .474,.12, .526,.125, .579,.12, .632,.11, .684,.10, .737,.10, .789,.095, .842,.09, .895,.085, .947,.075, 1,.07];
const thr08_obow = [.053,1, .053,.333, .105,.50, .158,.599, .158,.27, .211,.25, .263,.24, .263,.20, .316,.215, .368,.23, .368,.17, .421,.185, .474,.19, .526,.20, .526,.15, .579,.16, .632,.165, .684,.16, .737,.16, .737,.08, .789,.075, .842,.07, .895,.075, .947,.075, 1,.07];
const thr08_svm = [.158,1, .158,.375, .211,.442, .211,.37, .263,.41, .263,.38, .316,.41, .368,.39, .368,.34, .421,.36, .474,.358, .526,.34, .579,.30, .579,.14, .632,.15, .684,.16, .737,.17, .789,.18, .842,.16, .895,.13, .947,.09, 1,.085];
const thr08_simple = [.158,1, .158,.50, .211,.575, .211,.27, .263,.312, .263,.24, .316,.27, .368,.29, .421,.31, .474,.325, .526,.35, .579,.355, .579,.265, .632,.278, .684,.288, .684,.20, .737,.21, .737,.128, .789,.13, .842,.123, .895,.123, .947,.12, 1,.107, 1,.045];
const thr08_ours = [.053,1, .158,1, .158,.752, .211,.80, .263,.832, .263,.627, .316,.664, .316,.459, .368,.50, .421,.50, .421,.403, .474,.427, .474,.325, .526,.35, .579,.355, .579,.27, .632,.30, .684,.31, .684,.205, .737,.21, .789,.24, .789,.18, .842,.185, .895,.19, .895,.123, .947,.13, .947,.067, 1,.074, 1,.035];

const thr10_bay = [0,0, .053,.143, .053,.10, .105,.192, .158,.227, .158,.16, .211,.20, .211,.13, .263,.16, .263,.13, .316,.145, .368,.13, .421,.13, .474,.14, .526,.14, .579,.155, .579,.09, .632,.09, .684,.09, .737,.085, .789,.08, .842,.08, .895,.08, .947,.078, 1,.073];
const thr10_ibow = [0,0, .053,.10, .105,.192, .105,.146, .158,.199, .158,.16, .211,.206, .211,.178, .263,.188, .316,.206, .316,.162, .368,.165, .368,.135, .421,.14, .474,.14, .526,.14, .579,.145, .632,.14, .684,.12, .737,.12, .789,.11, .842,.11, .895,.10, .947,.08, 1,.073];
const thr10_obow = [.105,1, .105,.502, .158,.601, .211,.66, .263,.713, .263,.62, .316,.664, .316,.285, .368,.304, .368,.248, .421,.27, .474,.285, .474,.19, .526,.20, .579,.21, .579,.16, .632,.17, .684,.177, .684,.157, .737,.16, .789,.157, .789,.10, .842,.095, .895,.09, .895,.075, 1,.08];
const thr10_svm = [.211,1, .211,.448, .263,.50, .263,.418, .316,.46, .368,.50, .421,.505, .421,.42, .474,.44, .474,.41, .526,.38, .579,.39, .579,.248, .632,.258, .632,.195, .684,.17, .737,.17, .789,.17, .842,.177, .895,.18, .895,.135, .947,.135, .947,.103, 1,.10];
const thr10_simple = [.211,1, .211,.573, .263,.621, .263,.457, .316,.497, .316,.352, .368,.383, .368,.303, .421,.328, .474,.345, .526,.36, .579,.375, .632,.387, .632,.254, .684,.275, .737,.285, .789,.28, .789,.248, .842,.252, .895,.258, .895,.112, .947,.112, 1,.115];
const thr10_ours = [.053,1, .316,1, .316,.859, .368,.873, .368,.502, .421,.531, .421,.50, .474,.53, .474,.43, .526,.45, .579,.465, .632,.478, .632,.297, .684,.315, .684,.285, .737,.29, .789,.285, .789,.182, .842,.187, .895,.196, .895,.122, .947,.122, 1,.122, 1,.034];

// ---------- Run away ----------
const run02_bay = [.056,1, .056,.20, .111,.17, .167,.20, .167,.16, .222,.175, .278,.19, .333,.20, .333,.16, .389,.17, .444,.175, .444,.15, .5,.16, .556,.165, .556,.14, .611,.145, .667,.15, .667,.10, .722,.10, .778,.095, .833,.09, .889,.085, .944,.08, 1,.075];
const run02_ibow = [0,0, .056,.124, .111,.285, .111,.13, .167,.208, .222,.25, .222,.208, .278,.25, .278,.152, .333,.175, .389,.195, .444,.222, .444,.20, .5,.21, .5,.18, .556,.19, .611,.16, .667,.165, .722,.16, .778,.17, .778,.10, .833,.10, .889,.095, .944,.09, 1,.09];
const run02_obow = [0,0, .056,.124, .111,.16, .167,.20, .222,.20, .278,.17, .333,.19, .389,.21, .444,.222, .444,.15, .5,.16, .556,.165, .611,.15, .667,.15, .722,.14, .722,.095, .778,.10, .833,.10, .889,.09, .944,.09, 1,.095];
const run02_svm = [0,0, .056,.068, .111,.11, .111,.10, .167,.145, .167,.092, .222,.117, .278,.13, .333,.16, .389,.175, .389,.16, .444,.185, .5,.208, .5,.16, .556,.18, .611,.175, .667,.16, .722,.14, .778,.10, .833,.095, .889,.09, .944,.10, .944,.08, 1,.08];
const run02_simple = [0,0, .056,.075, .111,.13, .167,.17, .222,.19, .278,.208, .278,.16, .333,.18, .389,.19, .444,.20, .5,.205, .556,.20, .611,.20, .611,.15, .667,.155, .722,.16, .778,.15, .833,.10, .889,.095, .944,.09, 1,.09];
const run02_ours = [0,0, .056,.20, .056,.124, .111,.18, .167,.21, .167,.152, .222,.18, .278,.20, .333,.18, .389,.20, .444,.21, .444,.15, .5,.16, .556,.175, .611,.175, .611,.13, .667,.13, .722,.13, .778,.13, .778,.09, .833,.095, .889,.095, .889,.06, .944,.065, 1,.068];

const run04_bay = [0,0, .056,.13, .111,.215, .167,.257, .222,.292, .278,.32, .278,.28, .333,.28, .389,.285, .444,.285, .5,.26, .556,.243, .556,.215, .611,.222, .667,.23, .667,.19, .722,.195, .778,.16, .833,.172, .833,.13, .889,.12, .944,.115, 1,.11];
const run04_ibow = [.056,1, .056,.20, .111,.25, .167,.302, .167,.25, .222,.28, .222,.26, .278,.285, .333,.30, .389,.315, .444,.327, .444,.236, .5,.25, .556,.265, .556,.22, .611,.222, .667,.236, .667,.20, .722,.195, .778,.18, .778,.15, .833,.15, .889,.13, .944,.12, 1,.115];
const run04_obow = [0,0, .056,.145, .111,.20, .167,.25, .222,.305, .278,.34, .333,.36, .389,.39, .389,.265, .444,.28, .444,.25, .5,.22, .556,.20, .611,.21, .667,.22, .722,.21, .778,.19, .833,.17, .889,.15, .944,.14, 1,.13];
const run04_svm = [0,0, .056,.187, .111,.285, .167,.372, .167,.326, .222,.40, .222,.32, .278,.347, .333,.36, .333,.30, .389,.30, .444,.30, .5,.27, .5,.236, .556,.25, .611,.265, .667,.27, .667,.23, .722,.20, .778,.18, .833,.16, .889,.15, .889,.13, .944,.13, 1,.128];
const run04_simple = [0,0, .056,.16, .111,.23, .167,.285, .222,.31, .278,.325, .333,.34, .389,.35, .444,.36, .5,.372, .5,.278, .556,.27, .611,.282, .611,.229, .667,.243, .722,.232, .722,.20, .778,.19, .833,.17, .889,.15, .944,.13, 1,.10];
const run04_ours = [0,0, .056,.131, .111,.187, .167,.229, .222,.27, .278,.278, .278,.176, .333,.20, .389,.208, .444,.218, .5,.229, .556,.236, .611,.243, .667,.243, .722,.24, .778,.24, .778,.194, .833,.194, .833,.162, .889,.166, .944,.173, .944,.11, 1,.117, 1,.08];

const run06_bay = [0,0, .056,.145, .111,.22, .167,.30, .222,.33, .278,.385, .278,.326, .333,.34, .333,.27, .389,.24, .444,.26, .5,.27, .5,.23, .556,.24, .611,.245, .667,.25, .667,.20, .722,.20, .778,.19, .833,.18, .889,.15, .944,.12, 1,.10];
const run06_ibow = [.056,1, .111,1, .111,.30, .167,.35, .222,.40, .222,.30, .278,.33, .278,.26, .333,.29, .389,.31, .444,.33, .444,.23, .5,.25, .556,.26, .556,.22, .611,.23, .667,.235, .667,.20, .722,.19, .778,.18, .833,.17, .889,.15, .944,.12, 1,.11];
const run06_obow = [0,0, .056,.166, .111,.23, .167,.285, .222,.362, .222,.32, .278,.33, .333,.37, .389,.41, .444,.445, .444,.34, .5,.345, .556,.35, .611,.345, .611,.28, .667,.29, .722,.27, .778,.25, .778,.20, .833,.21, .889,.20, .889,.145, .944,.14, 1,.13];
const run06_svm = [0,0, .056,.243, .111,.33, .167,.383, .222,.445, .278,.501, .278,.264, .333,.30, .389,.325, .389,.30, .444,.31, .5,.30, .556,.27, .611,.28, .667,.26, .722,.25, .778,.235, .778,.18, .833,.19, .889,.155, .889,.10, .944,.09, 1,.095];
const run06_simple = [0,0, .056,.166, .111,.278, .167,.37, .222,.41, .278,.452, .278,.30, .333,.34, .389,.36, .389,.33, .444,.35, .5,.375, .556,.40, .556,.357, .611,.365, .611,.30, .667,.30, .722,.29, .778,.27, .833,.25, .889,.20, .889,.13, .944,.12, 1,.10];
const run06_ours = [.056,1, .056,.215, .111,.334, .111,.18, .167,.23, .222,.285, .278,.32, .333,.34, .389,.355, .444,.37, .444,.33, .5,.36, .556,.37, .611,.375, .611,.30, .667,.30, .722,.31, .778,.30, .778,.236, .833,.236, .833,.173, .889,.173, .889,.117, 1,.12, 1,.068];

const run08_bay = [0,0, .056,.16, .111,.27, .167,.33, .222,.362, .222,.27, .278,.30, .333,.32, .333,.27, .389,.29, .444,.30, .5,.27, .5,.23, .556,.24, .611,.225, .667,.21, .722,.20, .778,.18, .833,.17, .889,.15, .944,.12, 1,.10];
const run08_ibow = [0,0, .056,.27, .111,.30, .167,.369, .167,.25, .222,.28, .278,.325, .278,.29, .333,.30, .389,.31, .389,.28, .444,.29, .5,.30, .5,.25, .556,.26, .611,.27, .667,.28, .667,.22, .722,.215, .778,.22, .833,.20, .889,.20, .944,.18, .944,.10, 1,.10];
const run08_obow = [.056,1, .056,.271, .111,.22, .167,.278, .222,.32, .278,.35, .333,.39, .389,.45, .389,.34, .444,.37, .5,.34, .556,.33, .611,.34, .667,.30, .722,.29, .722,.23, .778,.24, .833,.25, .833,.20, .889,.20, .944,.195, .944,.125, 1,.13];
const run08_svm = [0,0, .056,.27, .111,.397, .167,.47, .222,.52, .278,.55, .278,.38, .333,.38, .389,.39, .444,.41, .5,.40, .556,.42, .556,.36, .611,.38, .667,.39, .667,.30, .722,.31, .778,.315, .833,.30, .889,.30, .889,.095, .944,.095, 1,.10];
const run08_simple = [.111,1, .111,.397, .167,.44, .222,.48, .278,.52, .333,.55, .389,.57, .389,.40, .444,.43, .5,.42, .556,.40, .611,.38, .611,.33, .667,.335, .722,.335, .778,.32, .833,.31, .833,.27, .889,.28, .944,.26, 1,.19, 1,.10];
const run08_ours = [.056,1, .167,1, .167,.753, .222,.80, .222,.669, .278,.715, .278,.60, .333,.60, .389,.58, .389,.49, .444,.50, .5,.49, .5,.43, .556,.435, .611,.45, .611,.37, .667,.38, .722,.38, .722,.29, .778,.29, .833,.30, .889,.29, .944,.29, .944,.12, 1,.12, 1,.068];

const run10_bay = [.111,1, .111,.29, .167,.30, .222,.35, .278,.383, .278,.333, .333,.36, .389,.397, .389,.347, .444,.375, .444,.255, .5,.28, .556,.285, .611,.30, .667,.305, .667,.29, .722,.30, .778,.31, .833,.30, .889,.30, .944,.30, .944,.24, 1,.245];
const run10_ibow = [.111,1, .111,.29, .167,.372, .167,.285, .222,.33, .222,.25, .278,.29, .333,.33, .333,.285, .389,.305, .444,.325, .5,.345, .556,.35, .556,.31, .611,.30, .667,.285, .722,.29, .778,.30, .778,.27, .833,.275, .889,.27, .944,.27, 1,.23, 1,.13];
const run10_obow = [.056,1, .056,.25, .111,.397, .111,.222, .167,.288, .222,.34, .278,.372, .333,.404, .389,.425, .444,.446, .444,.333, .5,.411, .5,.333, .556,.355, .611,.375, .667,.404, .667,.333, .722,.34, .722,.32, .778,.35, .778,.30, .833,.30, .833,.24, .889,.25, .889,.21, .944,.21, 1,.13];
const run10_svm = [.111,1, .111,.40, .167,.502, .222,.57, .278,.628, .333,.66, .389,.698, .389,.635, .444,.656, .444,.607, .5,.63, .5,.558, .556,.586, .556,.495, .611,.51, .667,.525, .667,.445, .722,.46, .722,.404, .778,.41, .833,.415, .833,.38, .889,.39, .944,.39, .944,.145, 1,.152];
const run10_simple = [.056,1, .278,1, .278,.72, .333,.755, .333,.551, .389,.572, .444,.58, .5,.565, .5,.51, .556,.525, .611,.48, .667,.49, .722,.50, .722,.37, .778,.36, .833,.37, .889,.37, .889,.22, .944,.23, .944,.10, 1,.11];
const run10_ours = [.056,1, .278,1, .278,.839, .333,.86, .389,.877, .389,.783, .444,.80, .5,.82, .5,.72, .556,.718, .556,.453, .611,.48, .667,.495, .722,.50, .722,.44, .778,.40, .833,.42, .889,.42, .889,.33, .944,.33, .944,.10, 1,.11, 1,.068];

// ---------- panel mapping (rows = classes, cols = observation ratios, inner = methods) ----------
const handShake = [[hs02_bay,hs02_ibow,hs02_obow,hs02_svm,hs02_simple,hs02_ours],[hs04_bay,hs04_ibow,hs04_obow,hs04_svm,hs04_simple,hs04_ours],[hs06_bay,hs06_ibow,hs06_obow,hs06_svm,hs06_simple,hs06_ours],[hs08_bay,hs08_ibow,hs08_obow,hs08_svm,hs08_simple,hs08_ours],[hs10_bay,hs10_ibow,hs10_obow,hs10_svm,hs10_simple,hs10_ours]];
const hug = [[hug02_bay,hug02_ibow,hug02_obow,hug02_svm,hug02_simple,hug02_ours],[hug04_bay,hug04_ibow,hug04_obow,hug04_svm,hug04_simple,hug04_ours],[hug06_bay,hug06_ibow,hug06_obow,hug06_svm,hug06_simple,hug06_ours],[hug08_bay,hug08_ibow,hug08_obow,hug08_svm,hug08_simple,hug08_ours],[hug10_bay,hug10_ibow,hug10_obow,hug10_svm,hug10_simple,hug10_ours]];
const punch = [[pun02_bay,pun02_ibow,pun02_obow,pun02_svm,pun02_simple,pun02_ours],[pun04_bay,pun04_ibow,pun04_obow,pun04_svm,pun04_simple,pun04_ours],[pun06_bay,pun06_ibow,pun06_obow,pun06_svm,pun06_simple,pun06_ours],[pun08_bay,pun08_ibow,pun08_obow,pun08_svm,pun08_simple,pun08_ours],[pun10_bay,pun10_ibow,pun10_obow,pun10_svm,pun10_simple,pun10_ours]];
const throwObject = [[thr02_bay,thr02_ibow,thr02_obow,thr02_svm,thr02_simple,thr02_ours],[thr04_bay,thr04_ibow,thr04_obow,thr04_svm,thr04_simple,thr04_ours],[thr06_bay,thr06_ibow,thr06_obow,thr06_svm,thr06_simple,thr06_ours],[thr08_bay,thr08_ibow,thr08_obow,thr08_svm,thr08_simple,thr08_ours],[thr10_bay,thr10_ibow,thr10_obow,thr10_svm,thr10_simple,thr10_ours]];
const runAway = [[run02_bay,run02_ibow,run02_obow,run02_svm,run02_simple,run02_ours],[run04_bay,run04_ibow,run04_obow,run04_svm,run04_simple,run04_ours],[run06_bay,run06_ibow,run06_obow,run06_svm,run06_simple,run06_ours],[run08_bay,run08_ibow,run08_obow,run08_svm,run08_simple,run08_ours],[run10_bay,run10_ibow,run10_obow,run10_svm,run10_simple,run10_ours]];
const grid = [handShake, hug, punch, throwObject, runAway];

// ---------- styling ----------
const lineColors = ['#4a7ebb', '#be4b48', '#98b954', '#d83fbf', '#7d5fa0', '#19b1cf'];
const legendColors = ['#4a74b0', '#b5453f', '#8aab4a', '#cc44b8', '#6a5190', '#4496ad'];
const W = 1918, H = 1918;
const colLeft = [60, 430, 800, 1170, 1541], panelW = 366;
const rowTop = [6, 377, 747, 1117, 1488], panelH = 367;

const traces = [];
const layout = {
  width: W, height: H, margin: {l: 0, r: 0, t: 0, b: 0},
  paper_bgcolor: '#ffffff', plot_bgcolor: '#ffffff',
  showlegend: false, annotations: [], shapes: []
};

for (let r = 0; r < 5; r++) {
  for (let c = 0; c < 5; c++) {
    const n = r * 5 + c + 1;
    const xk = n === 1 ? 'xaxis' : 'xaxis' + n;
    const yk = n === 1 ? 'yaxis' : 'yaxis' + n;
    const xr = n === 1 ? 'x' : 'x' + n;
    const yr = n === 1 ? 'y' : 'y' + n;
    const common = {
      showgrid: true, gridcolor: '#cccccc', griddash: 'dot', gridwidth: 1,
      tickvals: [0, 0.2, 0.4, 0.6, 0.8, 1], showticklabels: false, ticks: '',
      zeroline: false, showline: true, mirror: true, linecolor: '#000', linewidth: 2, fixedrange: true
    };
    layout[xk] = Object.assign({}, common, {
      domain: [colLeft[c] / W, (colLeft[c] + panelW) / W], range: [-14 / 340, 1 + 12 / 340], anchor: yr
    });
    layout[yk] = Object.assign({}, common, {
      domain: [1 - (rowTop[r] + panelH) / H, 1 - rowTop[r] / H], range: [-14 / 339, 1 + 14 / 339], anchor: xr
    });
    const xScale = r === 0 ? 1 / HAND_SHAKE_POSITIVES : 1;
    grid[r][c].forEach((arr, m) => {
      const xs = [], ys = [];
      for (let i = 0; i < arr.length; i += 2) { xs.push(arr[i] * xScale); ys.push(arr[i + 1]); }
      traces.push({type: 'scatter', mode: 'lines', x: xs, y: ys, xaxis: xr, yaxis: yr, name: methodNames[m],
        line: {color: lineColors[m], width: 3}, showlegend: false, hoverinfo: 'skip'});
    });
  }
}

// legend inside the first panel (swatch + label per method)
const legendY = [30, 63.5, 97.3, 130.8, 164.6, 198.3];
methodNames.forEach((name, m) => {
  const yp = 1 - legendY[m] / H;
  layout.shapes.push({type: 'line', xref: 'paper', yref: 'paper', x0: 140 / W, x1: 162 / W, y0: yp, y1: yp,
    line: {color: legendColors[m], width: 7}, layer: 'above'});
  layout.annotations.push({text: name, xref: 'paper', yref: 'paper', x: 162 / W, y: yp, xanchor: 'left', yanchor: 'middle',
    showarrow: false, font: {family: '"Open Sans", Lato, sans-serif', size: 26, color: '#000'}});
});

const labelFont = {family: 'Liberation Sans, Arial, sans-serif', size: 38, color: '#000'};
classNames.forEach((t, r) => {
  layout.annotations.push({text: t, xref: 'paper', yref: 'paper', x: 25 / W, y: 1 - (rowTop[r] + panelH / 2) / H,
    textangle: -90, showarrow: false, xanchor: 'center', yanchor: 'middle', font: labelFont});
});
observationLabels.forEach((t, c) => {
  layout.annotations.push({text: t, xref: 'paper', yref: 'paper', x: (colLeft[c] + panelW / 2) / W, y: 1 - 1890 / H,
    showarrow: false, xanchor: 'center', yanchor: 'middle', font: labelFont});
});

Plotly.newPlot('chart', traces, layout, {displayModeBar: false, staticPlot: true});
</script>
</body></html>
